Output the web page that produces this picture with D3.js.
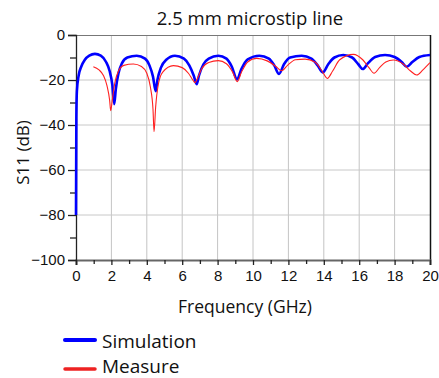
<!DOCTYPE html>
<html>
<head>
<meta charset="utf-8">
<script src="https://cdn.jsdelivr.net/npm/d3@7/dist/d3.min.js"></script>
<style>
html,body{margin:0;padding:0;background:#fff;}
svg{display:block;}
</style>
</head>
<body>
<svg id="chart" width="439" height="378"></svg>
<script>
const title = "2.5 mm microstip line";
const xLabel = "Frequency (GHz)";
const yLabel = "S11 (dB)";
const seriesNames = ["Simulation", "Measure"];
const xTicks = [0, 2, 4, 6, 8, 10, 12, 14, 16, 18, 20];
const yTicks = [0, -20, -40, -60, -80, -100];

// Simulation: frequency (GHz), S11 (dB)
const simFreq = [0, 0.02, 0.05, 0.15, 0.3, 0.5, 0.75, 1.07, 1.4, 1.7, 1.9, 2.05, 2.16, 2.25, 2.4, 2.6, 2.9, 3.43, 3.9, 4.15, 4.35, 4.5, 4.6, 4.8, 5.1, 5.59, 6.1, 6.4, 6.65, 6.82, 6.95, 7.2, 7.5, 8.04, 8.5, 8.8, 9.1, 9.35, 9.7, 10.36, 10.9, 11.2, 11.47, 11.75, 12.1, 12.75, 13.3, 13.65, 13.94, 14.25, 14.6, 15.1, 15.6, 15.95, 16.2, 16.5, 16.9, 17.46, 18.0, 18.4, 18.68, 19.0, 19.4, 20];
const simDb   = [-80, -37, -25, -18, -14, -11, -9.2, -8.4, -9.2, -12, -16, -22, -30.7, -24, -17, -12.5, -10, -9.2, -10.5, -13.5, -18.5, -25, -20, -14.5, -11, -9.2, -10.5, -13.5, -18, -21.9, -18, -13, -10.5, -9.2, -10.5, -14, -19.7, -15, -10.8, -9.2, -10.5, -13.5, -17.3, -13, -10, -9.2, -10.5, -13.5, -16.6, -13, -10, -8.9, -10, -13, -15.1, -12.5, -9.8, -8.9, -9.8, -12, -14.1, -12, -9.8, -8.9];

// Measure: frequency (GHz), S11 (dB)
const measFreq = [0.98, 1.3, 1.55, 1.75, 1.9, 1.96, 2.05, 2.2, 2.4, 2.7, 3.24, 3.7, 4.0, 4.2, 4.35, 4.41, 4.5, 4.65, 4.9, 5.5, 6.0, 6.35, 6.6, 6.72, 6.85, 7.1, 7.5, 8.04, 8.5, 8.85, 9.11, 9.35, 9.7, 10.2, 10.8, 11.3, 11.62, 11.95, 12.4, 12.94, 13.5, 13.9, 14.2, 14.5, 14.9, 15.67, 16.2, 16.55, 16.84, 17.15, 17.5, 17.93, 18.5, 18.9, 19.25, 19.6, 20];
const measDb   = [-14.1, -15.5, -18, -22.5, -29, -33.6, -29, -21, -16, -13.5, -12.9, -14, -17, -23, -33, -43, -32, -22, -16.5, -13.6, -14.5, -17, -20, -21.2, -19.5, -15, -12.2, -11.4, -12.8, -16.5, -20.7, -16.5, -12, -10.4, -11.5, -14, -15.9, -13.5, -11, -10.7, -12, -16, -19.3, -16, -11, -8.6, -11, -14.5, -17, -14.5, -12, -11.1, -13, -16, -17.8, -15.5, -12.3];

const svg = d3.select("#chart");
const L = 76, R = 430, T = 35, B = 260;
const x = d3.scaleLinear().domain([0, 20]).range([L, R]);
const y = d3.scaleLinear().domain([-100, 0]).range([B, T]);

const g = svg.append("g");

// grid
g.selectAll(".vg").data(xTicks.filter(d => d > 0 && d < 20)).enter().append("line")
  .attr("x1", d => x(d)).attr("x2", d => x(d)).attr("y1", T).attr("y2", B)
  .attr("stroke", "#c4c4c4").attr("stroke-width", 1);
g.selectAll(".hg").data(yTicks.filter(d => d < 0 && d > -100)).enter().append("line")
  .attr("x1", L).attr("x2", R).attr("y1", d => y(d)).attr("y2", d => y(d))
  .attr("stroke", "#c8c8c8").attr("stroke-width", 1);

// frame top and right
g.append("line").attr("x1", L).attr("x2", R).attr("y1", T + 0.5).attr("y2", T + 0.5).attr("stroke", "#777").attr("stroke-width", 1.2);
g.append("line").attr("x1", R + 0.5).attr("x2", R + 0.5).attr("y1", T).attr("y2", B).attr("stroke", "#111").attr("stroke-width", 1.5);

// axes
const xAxis = d3.axisBottom(x).tickValues(xTicks).tickSize(5).tickPadding(5).tickFormat(d3.format("d"));
const xMinor = d3.axisBottom(x).tickValues(d3.range(1, 20, 2)).tickSize(4).tickFormat("");
const yAxis = d3.axisLeft(y).tickValues(yTicks).tickSize(8).tickPadding(3).tickFormat(d3.format("d"));
const yMinor = d3.axisLeft(y).tickValues(d3.range(-90, 0, 20)).tickSize(6).tickFormat("");

const gx = svg.append("g").attr("transform", `translate(0,${B})`).call(xAxis);
svg.append("g").attr("transform", `translate(0,${B})`).call(xMinor).select(".domain").remove();
const gy = svg.append("g").attr("transform", `translate(${L},0)`).call(yAxis);
svg.append("g").attr("transform", `translate(${L},0)`).call(yMinor).select(".domain").remove();

svg.selectAll(".tick line").attr("stroke", "#222").attr("stroke-width", 1.3);
gx.select(".domain").attr("stroke", "#666").attr("stroke-width", 2.2);
gy.select(".domain").attr("stroke", "#222").attr("stroke-width", 1.3);
svg.selectAll(".tick text").attr("font-family", "Liberation Sans, Arial, sans-serif").attr("font-size", 15).attr("fill", "#111");

// lines
const line = d3.line().x(d => x(d[0])).y(d => y(d[1])).curve(d3.curveMonotoneX);
const simData = simFreq.map((f, i) => [f, simDb[i]]);
const measData = measFreq.map((f, i) => [f, measDb[i]]);

svg.append("path").datum(simData).attr("d", line)
  .attr("fill", "none").attr("stroke", "#0000ff").attr("stroke-width", 2.6).attr("stroke-linejoin", "round");
svg.append("path").datum(measData).attr("d", line)
  .attr("fill", "none").attr("stroke", "#ff2020").attr("stroke-width", 1.1).attr("stroke-linejoin", "round");

// texts
const font = "Open Sans, Noto Sans, sans-serif";
svg.append("text").attr("x", 250).attr("y", 25).attr("text-anchor", "middle")
  .attr("font-family", font).attr("font-size", 18.5).attr("fill", "#111").text(title);
svg.append("text").attr("x", 245).attr("y", 313).attr("text-anchor", "middle")
  .attr("font-family", font).attr("font-size", 17.5).attr("fill", "#111").text(xLabel);
svg.append("text").attr("transform", `translate(29,${(T + B) / 2 + 5}) rotate(-90)`).attr("text-anchor", "middle")
  .attr("font-family", font).attr("font-size", 17).attr("fill", "#111").text(yLabel);

// legend
const legColors = ["#0000ff", "#ee2222"];
const legWidths = [4, 3.5];
const legY = [340, 369];
const legBase = [348, 373];
seriesNames.forEach((name, i) => {
  svg.append("line").attr("x1", 65).attr("x2", 95).attr("y1", legY[i]).attr("y2", legY[i])
    .attr("stroke", legColors[i]).attr("stroke-width", legWidths[i]).attr("stroke-linecap", "round");
  svg.append("text").attr("x", 102).attr("y", legBase[i])
    .attr("font-family", font).attr("font-size", 19).attr("fill", "#111").text(name);
});
</script>
</body>
</html>
